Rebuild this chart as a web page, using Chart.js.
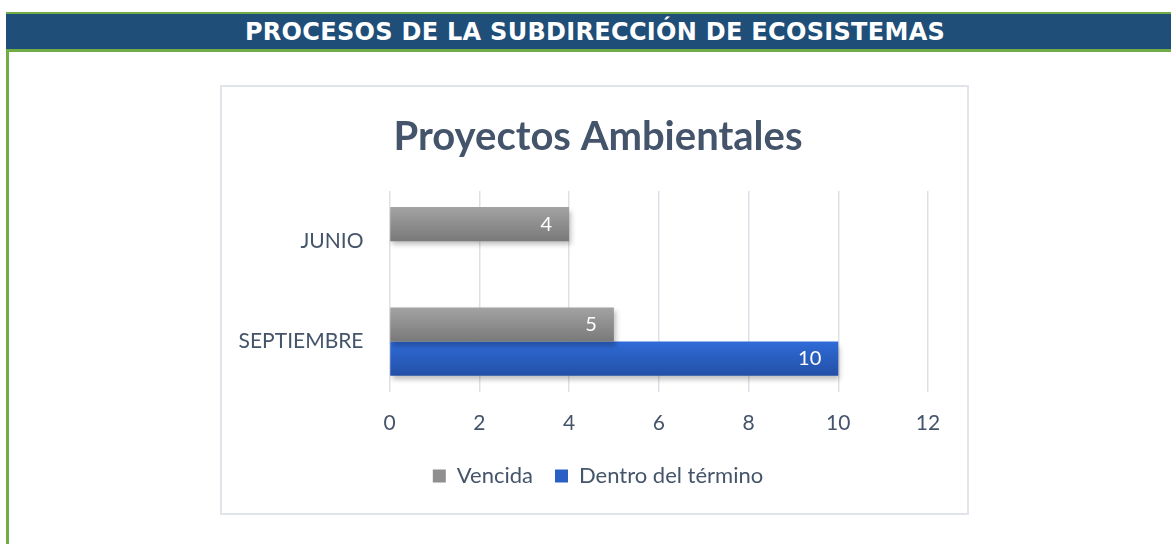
<!DOCTYPE html>
<html>
<head>
<meta charset="utf-8">
<script src="https://cdn.jsdelivr.net/npm/chart.js@4"></script>
<style>
  html, body { margin:0; padding:0; background:#fff; width:1171px; height:544px; overflow:hidden; }
  #leftLine { position:absolute; left:6px; top:12px; width:3px; height:532px; background:#70AD47; }
  #header { position:absolute; left:6px; top:12px; right:0; height:35px; background:#1F4E79;
    border-top:2px solid #70AD47; border-bottom:3px solid #70AD47; color:#fff;
    font-family:"DejaVu Sans", sans-serif; font-weight:700; font-size:24px; line-height:36px;
    text-align:center; padding-left:13px; box-sizing:content-box; white-space:nowrap; }
  #box { position:absolute; left:220px; top:85px; width:745px; height:426px; border:2px solid #E1E5EA; background:#fff; }
  #box canvas { position:absolute; left:0; top:0; }
</style>
</head>
<body>
<div id="leftLine"></div>
<div id="header"><span id="htext">PROCESOS DE LA SUBDIRECCIÓN DE ECOSISTEMAS</span></div>
<div id="box"><canvas id="c" width="745" height="426"></canvas></div>
<script>
const headerTitle = "PROCESOS DE LA SUBDIRECCIÓN DE ECOSISTEMAS";
const chartTitle = "Proyectos Ambientales";
const categories = ["JUNIO", "SEPTIEMBRE"];
const seriesNames = ["Vencida", "Dentro del término"];
const vencida = [4, 5];
const dentroDelTermino = [null, 10];
const xTicks = [0, 2, 4, 6, 8, 10, 12];

// stretch header text to the reference width
(function () {
  const span = document.getElementById("htext");
  span.textContent = headerTitle;
  const w = span.getBoundingClientRect().width;
  const target = 700;
  const n = headerTitle.length;
  span.style.letterSpacing = ((target - w) / n).toFixed(2) + "px";
})();

const textColor = "#44546A";
const fontFamily = "Lato, 'Open Sans', sans-serif";

const baseColors = ["#8F8F8F", "#2A5FC4"];
const gradients = [["#A3A3A3", "#797979"], ["#2F6BD8", "#2350A6"]];

const barStyle = {
  id: "barStyle",
  beforeDatasetsDraw(chart) {
    const ctx = chart.ctx;
    chart.data.datasets.forEach((ds, di) => {
      const meta = chart.getDatasetMeta(di);
      meta.data.forEach((el, i) => {
        if (ds.data[i] === null || ds.data[i] === undefined) return;
        const h = el.height;
        const g = ctx.createLinearGradient(0, el.y - h / 2, 0, el.y + h / 2);
        g.addColorStop(0, gradients[di][0]);
        g.addColorStop(1, gradients[di][1]);
        el.options.backgroundColor = g;
      });
    });
    ctx.save();
    ctx.shadowColor = "rgba(0,0,0,0.25)";
    ctx.shadowBlur = 5;
    ctx.shadowOffsetX = 2;
    ctx.shadowOffsetY = 4;
  },
  afterDatasetsDraw(chart) {
    const ctx = chart.ctx;
    ctx.restore();
    ctx.save();
    ctx.fillStyle = "#FFFFFF";
    ctx.font = "20px " + fontFamily;
    ctx.textAlign = "right";
    ctx.textBaseline = "middle";
    chart.data.datasets.forEach((ds, di) => {
      const meta = chart.getDatasetMeta(di);
      meta.data.forEach((el, i) => {
        const v = ds.data[i];
        if (v === null || v === undefined) return;
        ctx.fillText(String(v), el.x - 17, el.y);
      });
    });
    ctx.restore();
  }
};

new Chart(document.getElementById("c"), {
  type: "bar",
  data: {
    labels: categories,
    datasets: [
      { label: seriesNames[0], data: vencida, backgroundColor: (c) => baseColors[0] },
      { label: seriesNames[1], data: dentroDelTermino, backgroundColor: (c) => baseColors[1] }
    ]
  },
  options: {
    indexAxis: "y",
    responsive: false,
    animation: false,
    devicePixelRatio: 1,
    categoryPercentage: 0.68,
    barPercentage: 1.0,
    layout: { padding: { left: 7, right: 0, top: 0, bottom: 16 } },
    plugins: {
      title: {
        display: true, text: chartTitle, color: textColor,
        font: { family: fontFamily, size: 40, weight: "bold" },
        padding: { top: 26, bottom: 30 }
      },
      legend: {
        position: "bottom",
        labels: { color: textColor, font: { family: fontFamily, size: 22 }, boxWidth: 13, boxHeight: 13, padding: 22 }
      },
      tooltip: { enabled: false }
    },
    scales: {
      x: {
        min: 0, max: 12,
        afterBuildTicks(scale) { scale.ticks = xTicks.map(v => ({ value: v })); },
        ticks: { color: textColor, font: { family: fontFamily, size: 21 }, padding: 19 },
        grid: { color: "#DDE1E7", lineWidth: 1.5, drawTicks: false },
        border: { display: false },
        afterFit(scale) { scale.height -= 12; }
      },
      y: {
        ticks: { color: textColor, font: { family: fontFamily, size: 21 }, padding: 26 },
        grid: { display: false, drawTicks: false },
        border: { display: false },
        afterFit(scale) { scale.width = 160.5; }
      },
      yRight: {
        type: "linear",
        position: "right",
        display: true,
        ticks: { display: false },
        grid: { display: false, drawTicks: false },
        border: { display: false },
        afterFit(scale) { scale.width = 39; }
      }
    }
  },
  plugins: [barStyle]
});
</script>
</body>
</html>
